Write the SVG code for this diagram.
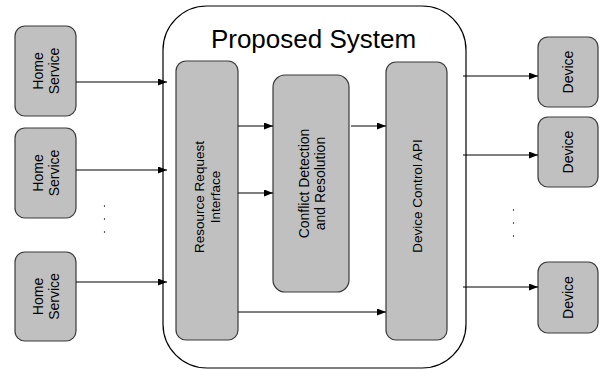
<svg xmlns="http://www.w3.org/2000/svg" width="606" height="370" viewBox="0 0 606 370">
<style>
.box{fill:#c0c0c0;stroke:#3a3a3a;stroke-width:1.2}
.cont{fill:#ffffff;stroke:#000;stroke-width:1.2}
.lbl{font-family:"Liberation Sans",Arial,sans-serif;font-size:14px;fill:#000;text-anchor:middle}
.title{font-family:"Liberation Sans",Arial,sans-serif;font-size:26px;fill:#000;text-anchor:middle}
.conn{stroke:#000;stroke-width:1;fill:none;marker-end:url(#ah)}
.dot{fill:#000}
</style>
<defs>
<marker id="ah" markerWidth="9" markerHeight="7" refX="9" refY="3.5" orient="auto" markerUnits="userSpaceOnUse">
<path d="M0,0 L9,3.5 L0,7 Z" fill="#000"/>
</marker>
</defs>
<rect width="606" height="370" fill="#fff"/>
<g id="proposed-system">
<rect class="cont" x="163" y="6" width="303" height="362" rx="44" ry="44"/>
<text class="title" x="313.5" y="48">Proposed System</text>
</g>
<g id="home-service-1">
<rect class="box" x="15" y="26" width="61" height="90" rx="10"/>
<text class="lbl" transform="translate(45.5,71) rotate(-90)"><tspan x="0" y="-3">Home</tspan><tspan x="0" y="13">Service</tspan></text>
</g>
<g id="home-service-2">
<rect class="box" x="15" y="128" width="61" height="90" rx="10"/>
<text class="lbl" transform="translate(45.5,173) rotate(-90)"><tspan x="0" y="-3">Home</tspan><tspan x="0" y="13">Service</tspan></text>
</g>
<g id="home-service-3">
<rect class="box" x="15" y="252" width="61" height="89" rx="10"/>
<text class="lbl" transform="translate(45.5,296.5) rotate(-90)"><tspan x="0" y="-3">Home</tspan><tspan x="0" y="13">Service</tspan></text>
</g>
<g id="resource-request-interface">
<rect class="box" x="176" y="61" width="62" height="279" rx="10"/>
<text class="lbl" style="font-size:13.5px" transform="translate(207,197) rotate(-90)"><tspan x="0" y="-3">Resource Request</tspan><tspan x="0" y="13">Interface</tspan></text>
</g>
<g id="conflict-detection">
<rect class="box" x="273" y="75" width="76" height="217" rx="12"/>
<text class="lbl" transform="translate(311.5,183.5) rotate(-90)"><tspan x="0" y="-3">Conflict Detection</tspan><tspan x="0" y="13">and Resolution</tspan></text>
</g>
<g id="device-control-api">
<rect class="box" x="386" y="62" width="61" height="278" rx="10"/>
<text class="lbl" style="font-size:13.5px" transform="translate(416.5,196) rotate(-90)"><tspan x="0" y="5">Device Control API</tspan></text>
</g>
<g id="device-1">
<rect class="box" x="538" y="37" width="60" height="70" rx="10"/>
<text class="lbl" transform="translate(568,72) rotate(-90)"><tspan x="0" y="5">Device</tspan></text>
</g>
<g id="device-2">
<rect class="box" x="538" y="117" width="60" height="70" rx="10"/>
<text class="lbl" transform="translate(568,152) rotate(-90)"><tspan x="0" y="5">Device</tspan></text>
</g>
<g id="device-3">
<rect class="box" x="538" y="262" width="60" height="71" rx="10"/>
<text class="lbl" transform="translate(568,297.5) rotate(-90)"><tspan x="0" y="5">Device</tspan></text>
</g>
<g id="connectors">
<line class="conn" x1="76" y1="82" x2="167" y2="82"/>
<line class="conn" x1="76" y1="170" x2="167" y2="170"/>
<line class="conn" x1="76" y1="282" x2="167" y2="282"/>
<line class="conn" x1="238" y1="126" x2="273" y2="126"/>
<line class="conn" x1="238" y1="193" x2="273" y2="193"/>
<line class="conn" x1="351" y1="126" x2="386" y2="126"/>
<line class="conn" x1="238" y1="312" x2="386" y2="312"/>
<line class="conn" x1="463" y1="76" x2="538" y2="76"/>
<line class="conn" x1="463" y1="155" x2="538" y2="155"/>
<line class="conn" x1="463" y1="287" x2="538" y2="287"/>
</g>
<g id="ellipsis-left">
<circle class="dot" cx="104.5" cy="206" r="0.7"/>
<circle class="dot" cx="104.5" cy="219" r="0.7"/>
<circle class="dot" cx="104.5" cy="232" r="0.7"/>
</g>
<g id="ellipsis-right">
<circle class="dot" cx="513.5" cy="210" r="0.7"/>
<circle class="dot" cx="513.5" cy="223" r="0.7"/>
<circle class="dot" cx="513.5" cy="236" r="0.7"/>
</g>
</svg>
